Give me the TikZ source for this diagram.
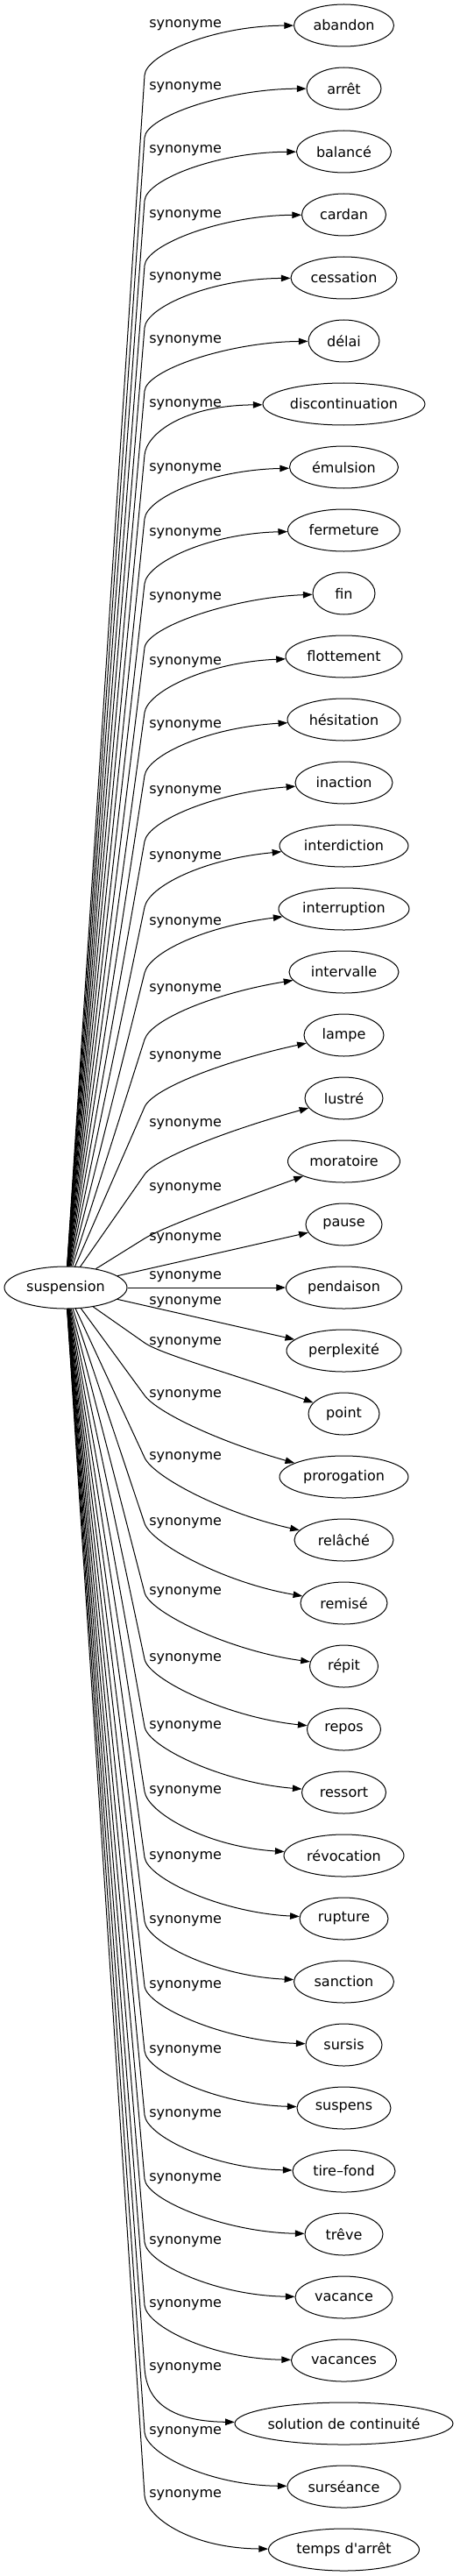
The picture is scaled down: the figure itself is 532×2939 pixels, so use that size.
\documentclass[tikz,border=0pt]{standalone}
\usepackage{fontspec}
\setmainfont{DejaVu Sans}
\usetikzlibrary{arrows.meta, shapes.geometric}

\begin{document}
\begin{tikzpicture}[x=0.75pt, y=-0.75pt,
  word/.style={ellipse, draw, line width=0.75pt, minimum height=36pt, inner sep=0pt,
    font=\fontsize{12}{14}\selectfont},
  rel/.style={anchor=west, inner sep=0pt, font=\fontsize{12}{14}\selectfont},
  link/.style={-{Triangle[length=8pt, width=5.6pt]}, line width=0.75pt}
]
\useasboundingbox (0,0) rectangle (532,2939);

\node[word, minimum width=105pt] (suspension) at (75,1469) {suspension};

% name / text / ellipse width (px) / height of its label
\foreach \name/\txt/\w/\ly [count=\k from 0] in {
  abandon/abandon/114/29, arret/arrêt/85/100, balance/balancé/108/172,
  cardan/cardan/96/246, cessation/cessation/121/317, delai/délai/81/389,
  discontinuation/discontinuation/185/462, emulsion/émulsion/124/535,
  fermeture/fermeture/128/609, fin/fin/71/682, flottement/flottement/133/756,
  hesitation/hésitation/129/828, inaction/inaction/111/903,
  interdiction/interdiction/147/978, interruption/interruption/149/1053,
  intervalle/intervalle/125/1129, lampe/lampe/91/1206, lustre/lustré/89/1283,
  moratoire/moratoire/128/1356, pause/pause/87/1413, pendaison/pendaison/132/1457,
  perplexite/perplexité/131/1486, point/point/81/1532,
  prorogation/prorogation/147/1592, relache/relâché/113/1663,
  remise/remisé/99/1738, repit/répit/78/1817, repos/repos/84/1893,
  ressort/ressort/96/1970, revocation/révocation/137/2044,
  rupture/rupture/101/2119, sanction/sanction/114/2192, sursis/sursis/87/2266,
  suspens/suspens/107/2340, tirefond/tire–fond/117/2413, treve/trêve/89/2486,
  vacance/vacance/111/2558, vacances/vacances/120/2630,
  solution/solution de continuité/249/2702, surseance/surséance/129/2775,
  tempsdarret/temps d\textquotesingle arrêt/172/2847
}{
  \node[word, minimum width=\w*0.75pt] (\name) at (392.5,29+72*\k) {\txt};
  \node[rel] (lab\k) at (170,\ly) {synonyme};
  \ifnum\k<19
    \pgfmathsetmacro{\by}{\ly+57}
    \pgfmathsetmacro{\bend}{180+20*exp(-(18-\k)/4)}
  \else
    \pgfmathsetmacro{\by}{\ly}
    \pgfmathsetmacro{\bend}{180-20*exp(-(\k-22)/4)}
  \fi
  \pgfmathsetmacro{\lean}{atan2(1469-\by,90)}
  \coordinate (turn\k) at (165,\by);
  \ifnum\k>18 \ifnum\k<22
    \draw[link] (suspension) -- (\name);
  \fi\fi
  \ifnum\k<19
    \draw[link] (suspension) -- (turn\k)
      to[out=\lean, in=\bend, out distance=18pt, in distance=68pt] (\name);
  \fi
  \ifnum\k>21
    \draw[link] (suspension) -- (turn\k)
      to[out=\lean, in=\bend, out distance=18pt, in distance=68pt] (\name);
  \fi
}
\end{tikzpicture}
\end{document}
